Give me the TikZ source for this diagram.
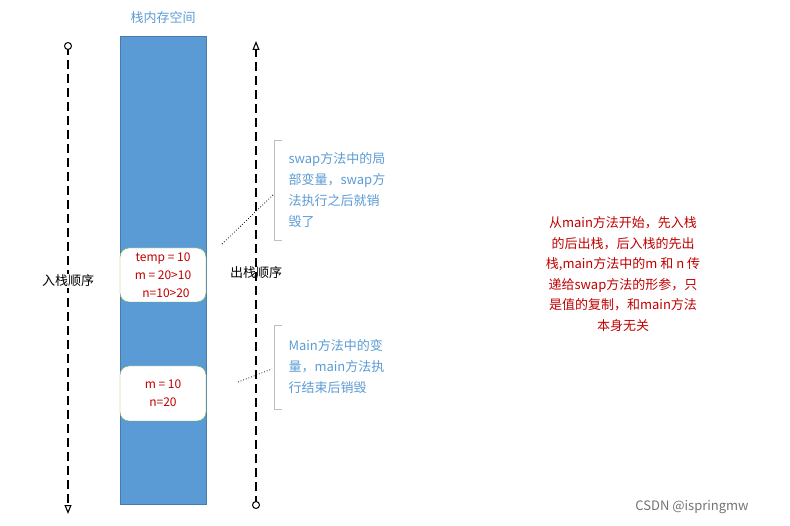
\documentclass[tikz,border=0pt]{standalone}
\usepackage{fontspec}
\setmainfont{Noto Sans CJK SC}
\usetikzlibrary{arrows.meta}
\definecolor{stk}{HTML}{5B9BD5}
\definecolor{lbl}{HTML}{5B9BD5}
\definecolor{rd}{HTML}{C00000}
\definecolor{grn}{HTML}{70AD47}
\begin{document}
\begin{tikzpicture}[x=1pt,y=-1pt,
  dline/.style={dash pattern=on 9pt off 5pt, line width=1.1pt},
  varbox/.style={draw=grn, fill=white, rounded corners=9pt, minimum width=86pt, align=center, text=rd, font=\fontsize{12}{18}\selectfont, inner sep=0pt},
  note/.style={text=lbl, align=left, font=\fontsize{13}{21}\selectfont, anchor=north west, text width=125pt},
  brk/.style={draw=black!25, line width=1pt},
  dots/.style={dotted, line width=0.8pt}]
\useasboundingbox (0,0) rectangle (790,526);
\node[text=lbl, font=\fontsize{13}{16}\selectfont] (title) at (163,18) {栈内存空间};
\fill[stk] (120,36) rectangle (206,504);
\draw[stk!80!black, line width=0.3pt] (120,36) rectangle (206,504);
% left line
\coordinate (l1) at (68,46); \coordinate (l2) at (68,514);
\draw[dline, -{Triangle[open,length=9pt,width=7pt]}] (l1) -- (l2);
\draw[fill=white, line width=1pt] (l1) circle (3.5pt);
\node[fill=white, inner sep=1pt, font=\fontsize{13}{16}\selectfont] (in) at (68,281) {入栈顺序};
% right line
\coordinate (r1) at (256,505); \coordinate (r2) at (256,41);
\draw[dline, -{Triangle[open,length=9pt,width=7pt]}] (r1) -- (r2);
\draw[fill=white, line width=1pt] (r1) circle (3.5pt);
\node[font=\fontsize{13}{16}\selectfont] (out) at (256,273) {出栈顺序};
% boxes
\node[varbox, minimum height=54pt] (b1) at (163,275) {temp = 10\\m = 20>10\\\hspace*{6pt}n=10>20};
\node[varbox, minimum height=55pt] (b2) at (163,393.5) {m = 10\\n=20};
% callouts
\draw[brk] (282,141) -- (274,141) -- (274,241) -- (282,241);
\node[note] (n1) at (285,149) {swap方法中的局\\部变量，swap方\\法执行之后就销\\毁了};
\draw[brk] (282,326) -- (274,326) -- (274,410) -- (282,410);
\node[note] (n2) at (285,336) {Main方法中的变\\量，main方法执\\行结束后销毁};
\coordinate (d1) at (222,244); \coordinate (d2) at (273,195);
\draw[dots] (d1) -- (d2);
\coordinate (d3) at (238,382); \coordinate (d4) at (272,369);
\draw[dots] (d3) -- (d4);
\node[text=rd, align=center, font=\fontsize{13}{20.5}\selectfont] (red) at (623,274) {从main方法开始，先入栈\\的后出栈，后入栈的先出\\栈,main方法中的m 和 n 传\\递给swap方法的形参，只\\是值的复制，和main方法\\本身无关};
\node[text=black!55, font=\fontsize{13}{16}\selectfont] (wm) at (692,507) {CSDN @ispringmw};
\end{tikzpicture}
\end{document}
